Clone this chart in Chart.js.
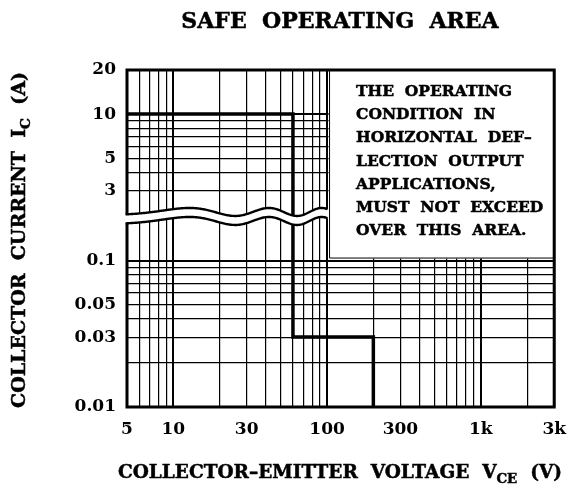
<!DOCTYPE html>
<html>
<head>
<meta charset="utf-8">
<script src="https://cdn.jsdelivr.net/npm/chart.js@4.4.0/dist/chart.umd.min.js"></script>
<style>
html, body { margin: 0; padding: 0; background: #fff; }
#soa { display: block; }
</style>
</head>
<body>
<canvas id="soa" width="578" height="493"></canvas>
<script>
// safe operating area outline (V, A)
var soaVoltage = [5, 60, 60, 200, 200];
var soaCurrent = [10, 10, 0.03, 0.03, 0.01];

// x grid / labels
var xGridValues = [5, 6, 7, 8, 9, 10, 20, 30, 40, 50, 60, 70, 80, 90, 100,
                   200, 300, 400, 500, 600, 700, 800, 900, 1000, 2000, 3000];
var xLabelValues = [5, 10, 30, 100, 300, 1000, 3000];
var xLabelTexts = ['5', '10', '30', '100', '300', '1k', '3k'];

// y grid / labels (real amps, axis is broken between 0.2 and 2)
var yGridValues = [0.01, 0.02, 0.03, 0.04, 0.05, 0.06, 0.07, 0.08, 0.09, 0.1,
                   3, 4, 5, 6, 7, 8, 9, 10, 20];
var yLabelValues = [0.01, 0.03, 0.05, 0.1, 3, 5, 10, 20];
var yLabelTexts = ['0.01', '0.03', '0.05', '0.1', '3', '5', '10', '20'];

var breakLow = 0.2, breakHigh = 2;

var chartTitle = 'SAFE  OPERATING  AREA';
var xTitle = [{t: 'COLLECTOR\u2013EMITTER  VOLTAGE  V'}, {t: 'CE', sub: true}, {t: '  (V)'}];
var yTitle = [{t: 'COLLECTOR  CURRENT  I'}, {t: 'C', sub: true}, {t: '  (A)'}];
var noteLines = ['THE  OPERATING', 'CONDITION  IN', 'HORIZONTAL  DEF\u2013', 'LECTION  OUTPUT',
                 'APPLICATIONS,', 'MUST  NOT  EXCEED', 'OVER  THIS  AREA.'];

var FONT = '"DejaVu Serif", "Liberation Serif", serif';

// upper part of the axis is drawn one decade lower
function plotY(v) { return v >= breakHigh ? v * breakLow / breakHigh : v; }
function same(a, b) { return Math.abs(a - b) < 1e-9 * Math.max(1, a); }
function isDecade(v) { var l = Math.log10(v); return Math.abs(l - Math.round(l)) < 1e-6; }

// text with thicker strokes, like the printed datasheet
function boldText(ctx, s, x, y) {
  ctx.fillText(s, x, y);
  ctx.strokeText(s, x, y);
}

function drawRich(ctx, parts, x, y, size) {
  var w = 0, i;
  for (i = 0; i < parts.length; i++) {
    ctx.font = 'bold ' + (parts[i].sub ? size * 0.72 : size) + 'px ' + FONT;
    parts[i].w = ctx.measureText(parts[i].t).width;
    w += parts[i].w;
  }
  var cx = x - w / 2;
  ctx.textAlign = 'left';
  ctx.textBaseline = 'alphabetic';
  for (i = 0; i < parts.length; i++) {
    ctx.font = 'bold ' + (parts[i].sub ? size * 0.72 : size) + 'px ' + FONT;
    boldText(ctx, parts[i].t, cx, y + (parts[i].sub ? size * 0.28 : 0));
    cx += parts[i].w;
  }
}

var decor = {
  id: 'soaDecor',
  afterDatasetsDraw: function(chart) {
    var ctx = chart.ctx, a = chart.chartArea;
    var xs = chart.scales.x, ys = chart.scales.y;
    var bx = xs.getPixelForValue(100), by = ys.getPixelForValue(0.1);
    ctx.save();

    // note box over the upper right
    ctx.fillStyle = '#fff';
    ctx.fillRect(bx + 1.5, a.top, a.right - bx - 1.5, by - a.top - 2);
    ctx.strokeStyle = '#000';
    ctx.lineWidth = 1;
    ctx.beginPath();
    ctx.moveTo(bx + 2.5, by - 2.5); ctx.lineTo(a.right, by - 2.5);
    ctx.moveTo(bx + 2.5, a.top); ctx.lineTo(bx + 2.5, by - 2.5);
    ctx.stroke();
    ctx.fillStyle = '#000';
    ctx.lineWidth = 0.5;
    ctx.font = 'bold 15.5px ' + FONT;
    ctx.textAlign = 'left';
    ctx.textBaseline = 'middle';
    for (var i = 0; i < noteLines.length; i++) {
      boldText(ctx, noteLines[i], bx + 29, a.top + 22 + i * 23.2);
    }

    // frame
    ctx.lineWidth = 3;
    ctx.strokeRect(a.left, a.top, a.right - a.left, a.bottom - a.top);

    // axis break band
    var yb = ys.getPixelForValue(breakLow);
    var x0 = a.left - 3, x1 = bx + 1;
    var wave = function(x) {
      var t = (x - a.left) / (bx - a.left);
      var c = 1.95 * t * t + 0.52 * t - 0.1;
      return yb - 4 * Math.sin(2 * Math.PI * c);
    };
    var x;
    ctx.fillStyle = '#fff';
    ctx.beginPath();
    for (x = x0; x <= x1; x += 1) ctx.lineTo(x, wave(x) - 4.5);
    for (x = x1; x >= x0; x -= 1) ctx.lineTo(x, wave(x) + 4.5);
    ctx.closePath();
    ctx.fill();
    ctx.lineWidth = 2.4;
    ctx.strokeStyle = '#000';
    [-4.5, 4.5].forEach(function(off) {
      ctx.beginPath();
      for (x = a.left - 1.5; x <= x1; x += 1) ctx.lineTo(x, wave(x) + off);
      ctx.stroke();
    });

    // titles
    ctx.fillStyle = '#000';
    ctx.lineWidth = 0.5;
    ctx.font = 'bold 22px ' + FONT;
    ctx.textAlign = 'center';
    ctx.textBaseline = 'middle';
    boldText(ctx, chartTitle, 340, 22);
    drawRich(ctx, xTitle, 340, 478, 18.5);
    ctx.translate(25, 240);
    ctx.rotate(-Math.PI / 2);
    drawRich(ctx, yTitle, 0, 0, 19);
    ctx.restore();
  }
};

var tickFont = {family: FONT, size: 17, weight: 'bold'};

new Chart(document.getElementById('soa'), {
  type: 'scatter',
  data: {
    datasets: [{
      data: soaVoltage.map(function(v, i) { return {x: v, y: plotY(soaCurrent[i])}; }),
      showLine: true,
      borderColor: '#000',
      borderWidth: 3.5,
      pointRadius: 0,
      tension: 0
    }]
  },
  options: {
    responsive: false,
    animation: false,
    devicePixelRatio: 1,
    layout: {padding: {left: 0, top: 70, right: 21, bottom: 0}},
    plugins: {legend: {display: false}, tooltip: {enabled: false}, title: {display: false}},
    scales: {
      x: {
        type: 'logarithmic',
        min: 5,
        max: 3000,
        afterBuildTicks: function(s) { s.ticks = xGridValues.map(function(v) { return {value: v}; }); },
        afterFit: function(s) { s.height = 86; },
        grid: {
          color: '#000',
          lineWidth: function(c) { return c.tick && isDecade(c.tick.value) ? 2 : 1.2; },
          drawTicks: false
        },
        border: {display: false},
        ticks: {
          autoSkip: false,
          maxRotation: 0,
          padding: 12,
          color: '#000',
          font: tickFont,
          callback: function(v) {
            for (var i = 0; i < xLabelValues.length; i++) if (same(v, xLabelValues[i])) return xLabelTexts[i];
            return '';
          }
        }
      },
      y: {
        type: 'logarithmic',
        min: 0.01,
        max: plotY(20),
        afterBuildTicks: function(s) { s.ticks = yGridValues.map(function(v) { return {value: plotY(v)}; }); },
        afterFit: function(s) { s.width = 127; },
        grid: {
          color: '#000',
          lineWidth: function(c) { return c.tick && isDecade(c.tick.value) ? 2 : 1.2; },
          drawTicks: false
        },
        border: {display: false},
        ticks: {
          autoSkip: false,
          padding: 11,
          color: '#000',
          font: tickFont,
          callback: function(v) {
            for (var i = 0; i < yLabelValues.length; i++) if (same(v, plotY(yLabelValues[i]))) return yLabelTexts[i];
            return '';
          }
        }
      }
    }
  },
  plugins: [decor]
});
</script>
</body>
</html>
